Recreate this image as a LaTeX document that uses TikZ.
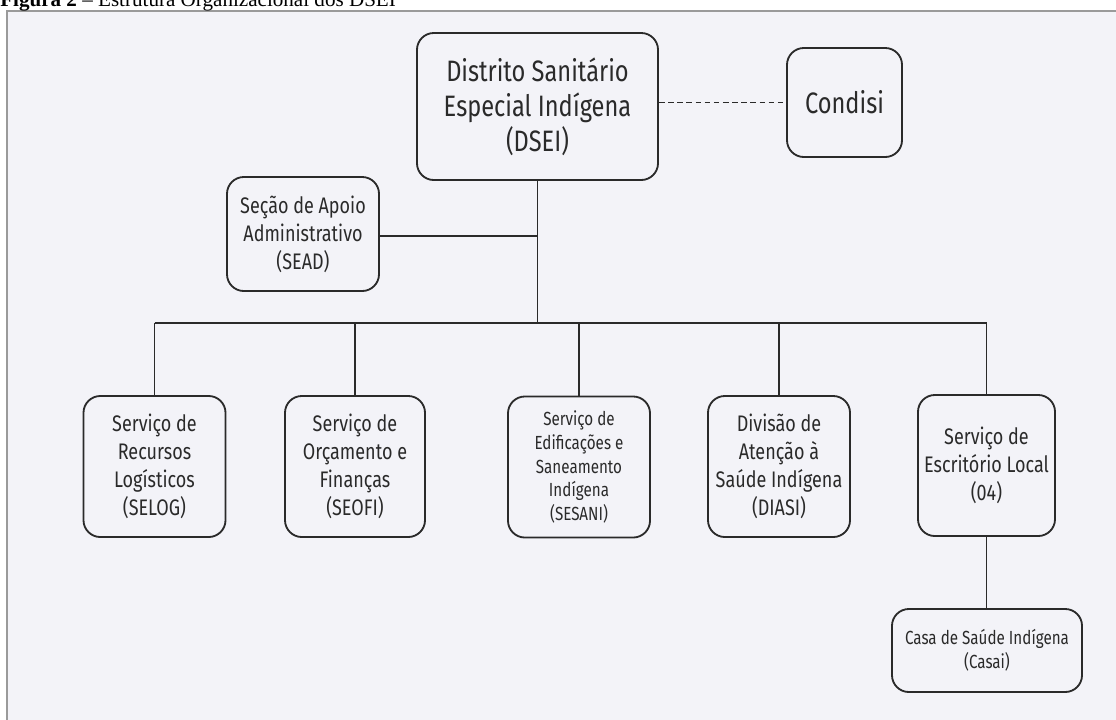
\documentclass[tikz,border=0pt]{standalone}
\usepackage{fontspec}
\newfontfamily\boxfont{Fira Sans}[FakeStretch=0.8]
\newfontfamily\titlefont{Liberation Serif}
\definecolor{panel}{HTML}{F3F3F8}
\definecolor{frameline}{HTML}{9A9A9A}
\definecolor{ink}{HTML}{2A2A2A}
\tikzset{
  unit/.style={draw=ink, line width=1.3pt, rounded corners=12pt, align=center,
    text=ink, inner sep=2pt, font=\boxfont\fontsize{16}{20}\selectfont},
  bigunit/.style={unit, font=\boxfont\fontsize{21}{25}\selectfont},
  smallunit/.style={unit, font=\boxfont\fontsize{13.5}{17}\selectfont},
  child/.style={unit, minimum width=3.55cm, minimum height=3.525cm},
  link/.style={draw=ink, line width=1.3pt}
}
\begin{document}
\begin{tikzpicture}[x=0.025cm,y=-0.025cm]
\useasboundingbox (0,0) rectangle (1116,719);
%frame
\draw[frameline,fill=panel,line width=1.2pt](7,11) rectangle (1140,740);
\node[anchor=base west,inner sep=0pt,font=\titlefont\fontsize{15}{17}\selectfont] (title) at (0,6) {\textbf{Figura 2} – Estrutura Organizacional dos DSEI};
%top
\node[bigunit,minimum width=6.025cm,minimum height=3.675cm] (dsei) at (537.5,106.5) {Distrito Sanitário\\Especial Indígena\\(DSEI)};
\node[bigunit,minimum width=2.875cm,minimum height=2.725cm] (condisi) at (844.5,102.5) {Condisi};
\node[unit,minimum width=3.8cm,minimum height=2.85cm] (sead) at (303,234) {Seção de Apoio\\Administrativo\\(SEAD)};
%children
\node[child] (selog) at (154.5,466.5) {Serviço de\\Recursos\\Logísticos\\(SELOG)};
\node[child,minimum width=3.5cm] (seofi) at (355,466.5) {Serviço de\\Orçamento e\\Finanças\\(SEOFI)};
\node[child,font=\boxfont\fontsize{13.5}{17}\selectfont] (sesani) at (579,467) {Serviço de\\Edificações e\\Saneamento\\Indígena\\(SESANI)};
\node[child] (diasi) at (779,466.5) {Divisão de\\Atenção à\\Saúde Indígena\\(DIASI)};
\node[child,minimum width=3.425cm] (escr) at (986.5,465.5) {Serviço de\\Escritório Local\\(04)};
\node[smallunit,minimum width=4.75cm,minimum height=2.075cm] (casai) at (987,650.5) {Casa de Saúde Indígena\\(Casai)};
%links
\coordinate (bus) at (538,323);
\draw[link](dsei.south)--(dsei.south|-bus);
\draw[link](sead.east|-236,236)--(dsei.south|-236,236);
\draw[link,dash pattern=on 4pt off 2.5pt](dsei.east|-condisi)--(condisi.west);
\draw[link](selog.north|-bus)--(escr.north|-bus);
\foreach \n in {selog,seofi,sesani,diasi,escr}
  \draw[link](\n.north)--(\n.north|-bus);
\draw[link](escr.south)--(casai.north-|escr.south);
\end{tikzpicture}
\end{document}
